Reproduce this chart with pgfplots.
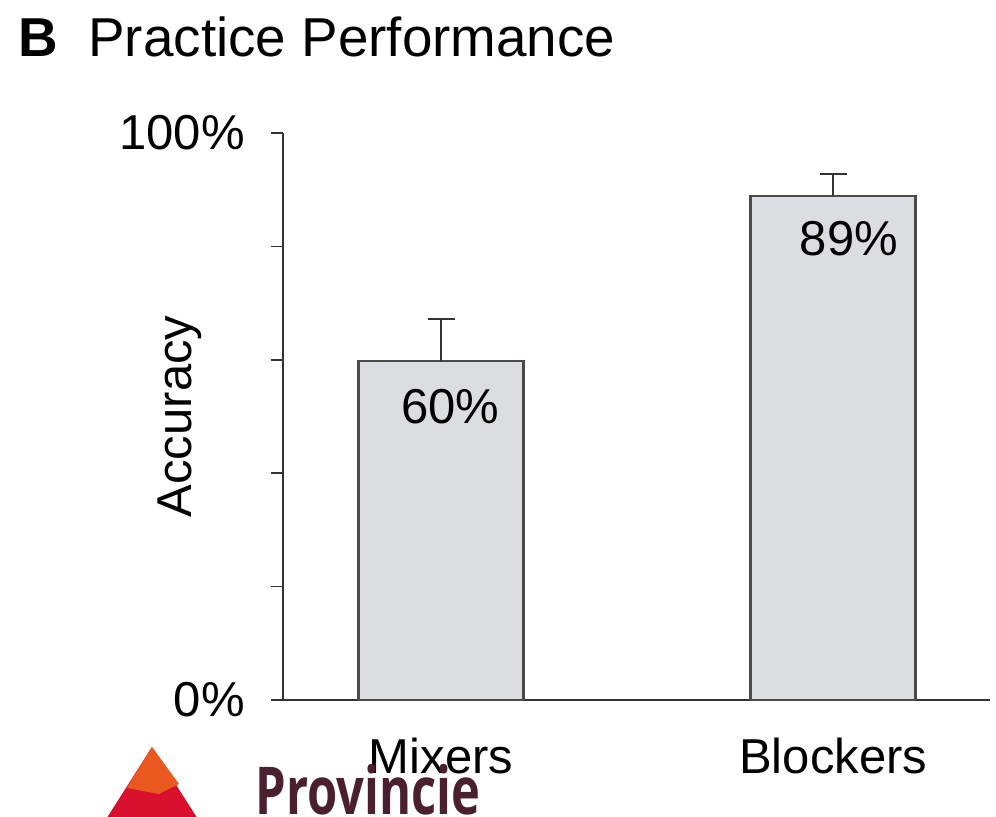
\documentclass[border=0pt]{standalone}
\usepackage{pgfplots}
\pgfplotsset{compat=1.18}
\usepackage{fontspec}
\setmainfont{Liberation Sans}
\newfontfamily\logofont{Open Sans}
\definecolor{barfill}{HTML}{DCDDE0}
\definecolor{baredge}{HTML}{4A4A4A}
\definecolor{axisgray}{HTML}{333333}
\definecolor{logotext}{HTML}{4A1F2E}
\definecolor{logoorange}{HTML}{E9581E}
\definecolor{logored}{HTML}{D8102E}
\begin{document}
\begin{tikzpicture}
\useasboundingbox (-141.5pt,-58.5pt) rectangle (356.5pt,350pt);
\begin{axis}[
  at={(0,0)}, anchor=south west,
  scale only axis,
  width=353.5pt, height=283.5pt,
  xmin=-0.403, xmax=1.40,
  ymin=0, ymax=100,
  axis x line=bottom, axis y line=left,
  axis line style={-, draw=axisgray, line width=1.3pt},
  xtick={0,1}, xticklabels={Mixers,Blockers},
  x tick style={draw=none},
  ytick={0,20,40,60,80,100},
  yticklabels={0\%,,,,,100\%},
  tick align=outside,
  major tick length=6pt,
  y tick style={draw=axisgray, line width=0.8pt},
  tick label style={font=\fontsize{24.5pt}{28pt}\selectfont},
  x tick label style={inner sep=0pt, yshift=-13pt},
  y tick label style={inner sep=0pt, xshift=-13pt},
  /pgf/number format/assume math mode=true,
  ylabel={Accuracy},
  ylabel style={at={(axis description cs:-0.1457,0.5)}, anchor=center, font=\fontsize{24.5pt}{28pt}\selectfont, inner sep=0pt},
  clip=false,
]
\addplot[ybar, bar width=82.5pt, fill=barfill, draw=baredge, line width=1.3pt,
  error bars/.cd, y dir=plus, y explicit,
  error bar style={draw=axisgray, line width=1.1pt},
  error mark options={draw=axisgray, line width=1.1pt, mark size=6.75pt, rotate=90}]
  coordinates {(0,59.8) +- (0,7.4) (1,88.9) +- (0,3.9)};
\node[font=\fontsize{24.5pt}{28pt}\selectfont, inner sep=0pt] at (axis cs:0.023,51.7) {60\%};
\node[font=\fontsize{24.5pt}{28pt}\selectfont, inner sep=0pt] at (axis cs:1.04,81.4) {89\%};
\end{axis}
\node[anchor=base west, inner sep=0pt, font=\fontsize{27.4pt}{32pt}\selectfont\bfseries] at (-132.5pt,321.5pt) {B};
\node[anchor=base west, inner sep=0pt, font=\fontsize{27.4pt}{32pt}\selectfont] at (-97.5pt,321.5pt) {Practice Performance};
\begin{scope}
\clip (-141.5pt,-58.5pt) rectangle (356.5pt,350pt);
\fill[logored] (-65.5pt,-23.5pt) -- (-90pt,-62pt) -- (-41pt,-62pt) -- cycle;
\fill[logoorange] (-65.5pt,-23.5pt) -- (-74pt,-37pt) -- (-78pt,-44pt) -- (-62pt,-47pt) -- (-52pt,-42pt) -- cycle;
\node[anchor=base west, inner sep=0pt, text=logotext] at (-14pt,-57.5pt) {\scalebox{0.74}[1]{\logofont\bfseries\fontsize{33pt}{36pt}\selectfont Provincie}};
\end{scope}
\end{tikzpicture}
\end{document}
